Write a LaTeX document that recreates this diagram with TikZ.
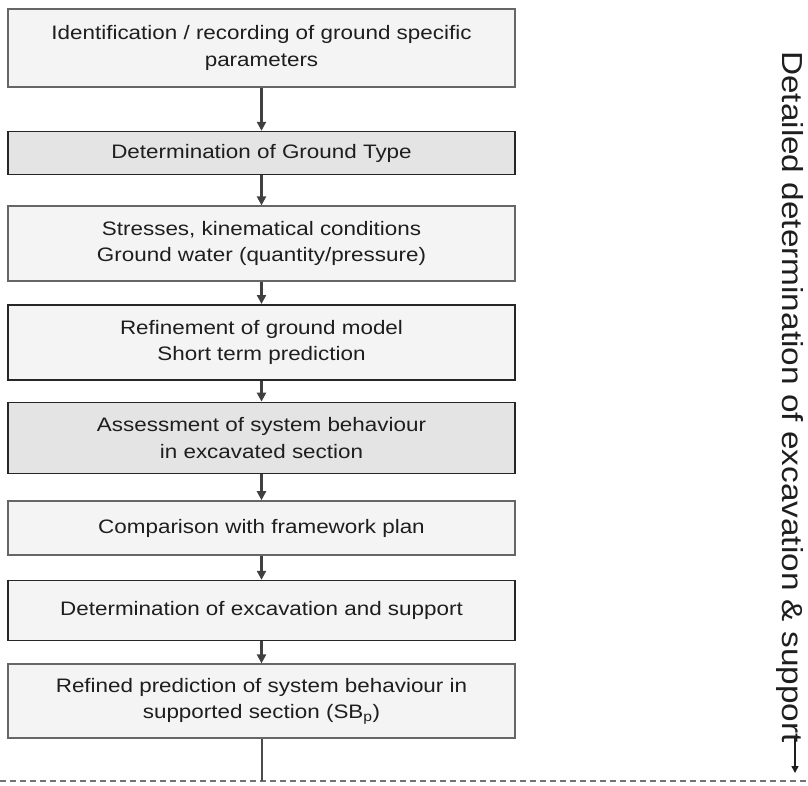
\documentclass[tikz,border=0pt]{standalone}
\usepackage{fontspec}
\setmainfont{Liberation Sans}[FakeStretch=1.15]
\usepackage{xcolor}
\definecolor{edge}{HTML}{666666}
\definecolor{darkedge}{HTML}{262626}
\definecolor{paper}{HTML}{F4F4F4}
\definecolor{shade}{HTML}{E4E4E4}
\definecolor{ink}{HTML}{1E1E1E}
\usepackage{tikz}
\usetikzlibrary{arrows.meta,positioning}
\tikzset{
  stepbox/.style = {rectangle, draw=edge, line width=1.6pt, fill=paper,
                    minimum width=507pt, align=center, text=ink,
                    font=\fontsize{19.5}{26.5}\selectfont},
  keybox/.style  = {stepbox, draw=darkedge, fill=shade},
  arr/.style     = {-{Triangle[length=9pt,width=9pt]}, line width=2.2pt, draw=ink!85},
  cut/.style     = {dashed, dash pattern=on 6pt off 4pt, line width=1.3pt, draw=black!55}
}

\begin{document}
\begin{tikzpicture}[x=1pt, y=-1pt]
  \useasboundingbox (0,0) rectangle (808,785);
  \node[stepbox, minimum height=78pt] (s1) at (261.5,48)
       {Identification / recording of ground specific\\parameters};
  \node[keybox,  minimum height=43pt, below=43pt of s1] (s2) {Determination of Ground Type};
  \node[stepbox, minimum height=75pt, below=30pt of s2] (s3)
       {Stresses, kinematical conditions\\Ground water (quantity/pressure)};
  \node[stepbox, minimum height=75pt, below=22pt of s3, draw=darkedge] (s4)
       {Refinement of ground model\\Short term prediction};
  \node[keybox,  minimum height=71pt, below=21pt of s4] (s5)
       {Assessment of system behaviour\\in excavated section};
  \node[stepbox, minimum height=54pt, below=26pt of s5] (s6) {Comparison with framework plan};
  \node[stepbox, minimum height=60pt, below=24pt of s6, draw=darkedge] (s7)
       {Determination of excavation and support};
  \node[stepbox, minimum height=74pt, below=22pt of s7] (s8)
       {Refined prediction of system behaviour in\\supported section (SB\textsubscript{p})};
  \draw[arr] (s1) -- (s2);
  \draw[arr] (s2) -- (s3);
  \draw[arr] (s3) -- (s4);
  \draw[arr] (s4) -- (s5);
  \draw[arr] (s5) -- (s6);
  \draw[arr] (s6) -- (s7);
  \draw[arr] (s7) -- (s8);
  % cut line at the foot
  \coordinate (cutL) at (0,781);
  \coordinate (cutR) at (808,781);
  \coordinate (cutM) at (261.5,781);
  \draw[cut] (cutL) -- (cutR);
  \draw[line width=2pt, draw=ink!80] (s8) -- (cutM);
  % side label
  \node[rotate=-90, anchor=base west, inner sep=0pt, text=ink,
        font=\fontsize{29}{34}\selectfont] (side) at (782,51)
       {Detailed determination of excavation \& support};
  \coordinate (sidetip) at (795,773);
  \draw[-{Triangle[length=7pt,width=7pt]}, line width=1.5pt, draw=ink]
       ([xshift=13pt, yshift=6pt]side.base east) -- (sidetip);
\end{tikzpicture}
\end{document}
